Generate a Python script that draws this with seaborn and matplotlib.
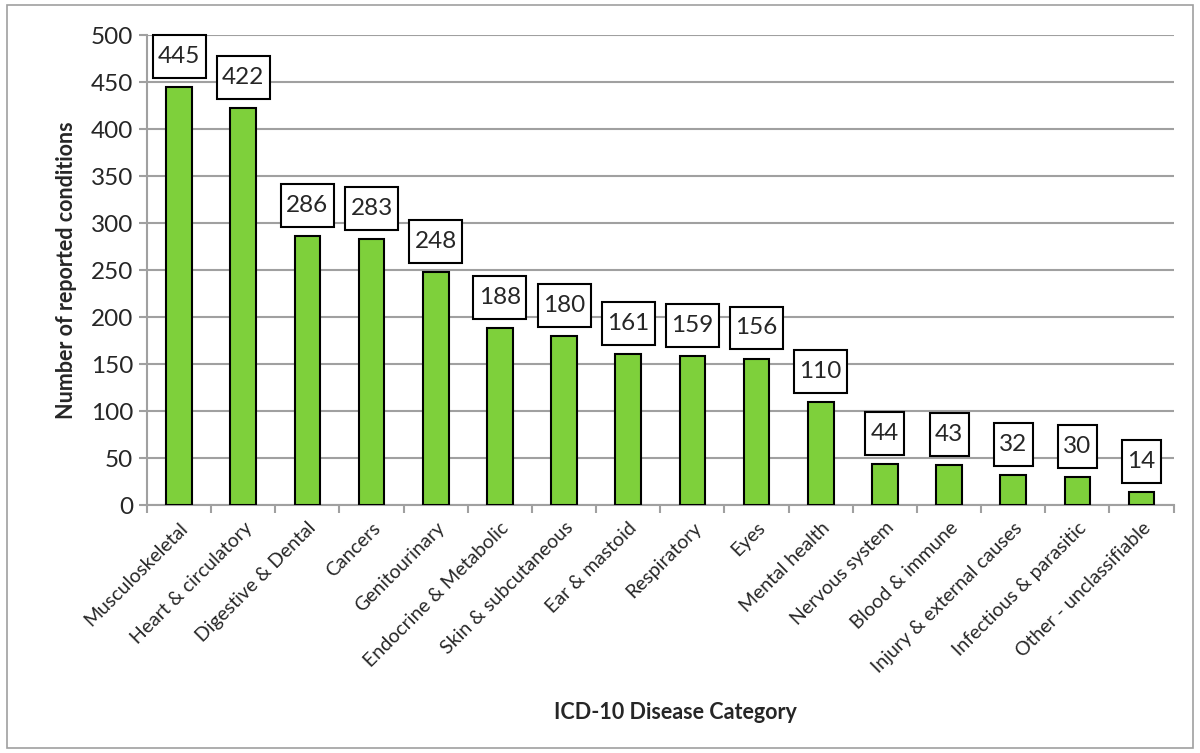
import numpy as np
import pandas as pd
import matplotlib
matplotlib.use('Agg')
import matplotlib.pyplot as plt
import seaborn as sns
from matplotlib.patches import Rectangle
from matplotlib.path import Path

categories = ['Musculoskeletal', 'Heart & circulatory', 'Digestive & Dental', 'Cancers',
              'Genitourinary', 'Endocrine & Metabolic', 'Skin & subcutaneous', 'Ear & mastoid',
              'Respiratory', 'Eyes', 'Mental health', 'Nervous system', 'Blood & immune',
              'Injury & external causes', 'Infectious & parasitic', 'Other - unclassifiable']
counts = [445, 422, 286, 283, 248, 188, 180, 161, 159, 156, 110, 44, 43, 32, 30, 14]
yticks = [0, 50, 100, 150, 200, 250, 300, 350, 400, 450, 500]


def label_box(x0, y0, width, height, mutation_size):
    # Excel-like label box: narrow sides, taller top/bottom
    px = 0.22 * mutation_size
    py = 0.45 * mutation_size
    verts = [(x0 - px, y0 - py), (x0 + width + px, y0 - py),
             (x0 + width + px, y0 + height + py), (x0 - px, y0 + height + py),
             (x0 - px, y0 - py)]
    return Path(verts, [Path.MOVETO, Path.LINETO, Path.LINETO, Path.LINETO, Path.CLOSEPOLY])


df = pd.DataFrame({'category': categories, 'count': counts})

sns.set_style('white')
plt.rcParams['font.family'] = ['Lato', 'DejaVu Sans']

fig = plt.figure(figsize=(12, 7.53), dpi=100)
ax = fig.add_axes([0.1225, 0.329, 0.8555, 0.6245])

sns.barplot(data=df, x='category', y='count', color='#7ED03B', width=0.4,
            edgecolor='black', linewidth=1.5, saturation=1, ax=ax, zorder=3)

ax.set_ylim(0, 500)
ax.set_xlim(-0.5, len(categories) - 0.5)
ax.set_yticks(yticks)
ax.yaxis.grid(True, color='#A0A0A0', linewidth=1.5, zorder=0)
ax.set_axisbelow(True)
ax.tick_params(axis='y', labelsize=17.5, length=6, width=1.5, color='#A0A0A0', direction='out', left=True, pad=4)

# category tick marks sit between the bars
ax.set_xticks(np.arange(len(categories)))
ax.set_xticklabels(categories, rotation=45, ha='right', rotation_mode='anchor', fontsize=14)
ax.tick_params(axis='x', which='major', length=0, pad=10)
ax.set_xticks(np.arange(len(categories) + 1) - 0.5, minor=True)
ax.tick_params(axis='x', which='minor', length=6, width=1.5, color='#A0A0A0', direction='out', bottom=True)

for side in ['top', 'right']:
    ax.spines[side].set_visible(False)
for side in ['left', 'bottom']:
    ax.spines[side].set_color('#A0A0A0')
    ax.spines[side].set_linewidth(1.5)

for i, v in enumerate(counts):
    ax.annotate(str(v), (i, v), xytext=(0, 22), textcoords='offset points',
                ha='center', va='center', fontsize=17.5,
                bbox=dict(boxstyle=label_box, fc='white', ec='black', lw=1.5), zorder=5)

ax.set_ylabel('Number of reported conditions', fontsize=15.5, fontweight='bold', labelpad=10)
ax.set_xlabel('')
fig.text(0.5625, 0.054, 'ICD-10 Disease Category', ha='center', va='center', fontsize=15.5, fontweight='bold')

fig.patches.append(Rectangle((0.006, 0.007), 0.988, 0.986, transform=fig.transFigure,
                             fill=False, edgecolor='#A0A0A0', linewidth=1.2))

fig.savefig('out.png', dpi=100)
